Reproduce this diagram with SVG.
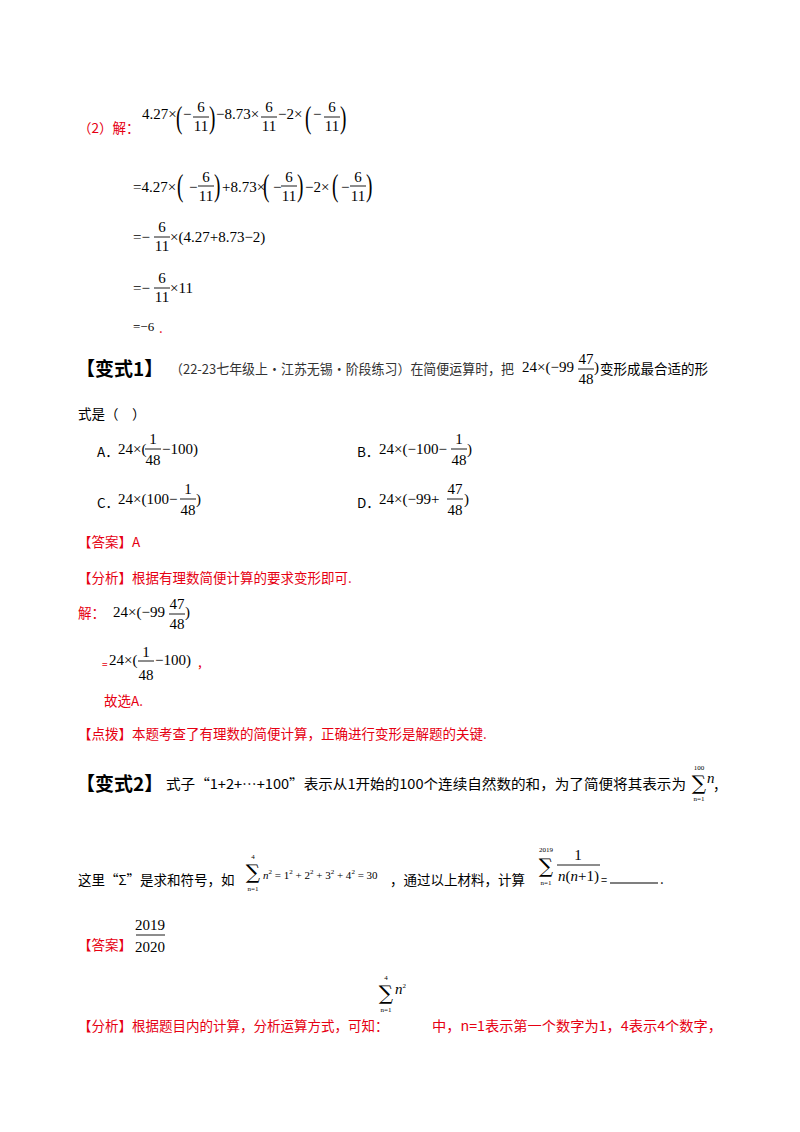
<svg xmlns="http://www.w3.org/2000/svg" width="800" height="1132" viewBox="0 0 800 1132">
<style>
.m{font-family:"Liberation Serif",serif;font-size:15px;fill:#000}
.f{font-family:"Liberation Serif",serif;font-size:15px;fill:#000;text-anchor:middle}
.s{font-family:"Liberation Serif",serif;font-size:7px;fill:#000;text-anchor:middle}
.p{font-family:"Liberation Serif",serif;font-size:32px;fill:#000}
.sum{font-family:"DejaVu Serif",serif;font-size:20px;fill:#000;text-anchor:middle}
.cn{font-family:"Noto Sans CJK SC",sans-serif;font-size:13.5px;fill:#000}
.g{font-family:"Noto Sans CJK SC",sans-serif;font-size:13.5px;fill:#333}
.r{font-family:"Noto Sans CJK SC",sans-serif;font-size:13.5px;fill:#e60012}
.t{font-family:"Noto Sans CJK SC",sans-serif;font-size:19px;font-weight:bold;fill:#000}
.bar{stroke:#000;stroke-width:0.9}
</style>
<rect width="800" height="1132" fill="#fff"/>

<!-- (2) solution -->
<text class="r" x="78" y="133">（2）解：</text>
<text class="m" x="142" y="119">4.27×</text>
<text class="p" x="176" y="128" transform="translate(176 0) scale(0.6 1) translate(-176 0)">(</text>
<text class="m" x="183" y="119">−</text>
<text class="f" x="201" y="112">6</text><line class="bar" x1="193" y1="117" x2="209" y2="117"/><text class="f" x="201" y="131">11</text>
<text class="p" x="209" y="128" transform="translate(209 0) scale(0.6 1) translate(-209 0)">)</text>
<text class="m" x="216" y="119">−8.73×</text>
<text class="f" x="269" y="112">6</text><line class="bar" x1="261" y1="117" x2="277" y2="117"/><text class="f" x="269" y="131">11</text>
<text class="m" x="278" y="119">−2×</text>
<text class="p" x="305" y="128" transform="translate(305 0) scale(0.6 1) translate(-305 0)">(</text>
<text class="m" x="313" y="119">−</text>
<text class="f" x="332" y="112">6</text><line class="bar" x1="324" y1="117" x2="340" y2="117"/><text class="f" x="332" y="131">11</text>
<text class="p" x="340" y="128" transform="translate(340 0) scale(0.6 1) translate(-340 0)">)</text>

<text class="m" x="133" y="192">=4.27×</text>
<text class="p" x="177" y="196" transform="translate(177 0) scale(0.6 1) translate(-177 0)">(</text>
<text class="m" x="189" y="192">−</text>
<text class="f" x="206" y="182">6</text><line class="bar" x1="198" y1="186" x2="214" y2="186"/><text class="f" x="206" y="201">11</text>
<text class="p" x="214" y="196" transform="translate(214 0) scale(0.6 1) translate(-214 0)">)</text>
<text class="m" x="222" y="192">+8.73×</text>
<text class="p" x="263" y="196" transform="translate(263 0) scale(0.6 1) translate(-263 0)">(</text>
<text class="m" x="273" y="192">−</text>
<text class="f" x="289" y="182">6</text><line class="bar" x1="281" y1="186" x2="297" y2="186"/><text class="f" x="289" y="201">11</text>
<text class="p" x="297" y="196" transform="translate(297 0) scale(0.6 1) translate(-297 0)">)</text>
<text class="m" x="305" y="192">−2×</text>
<text class="p" x="332" y="196" transform="translate(332 0) scale(0.6 1) translate(-332 0)">(</text>
<text class="m" x="341" y="192">−</text>
<text class="f" x="358" y="182">6</text><line class="bar" x1="350" y1="186" x2="366" y2="186"/><text class="f" x="358" y="201">11</text>
<text class="p" x="366" y="196" transform="translate(366 0) scale(0.6 1) translate(-366 0)">)</text>

<text class="m" x="133" y="242">=−</text>
<text class="f" x="162" y="232">6</text><line class="bar" x1="154" y1="237" x2="170" y2="237"/><text class="f" x="162" y="251">11</text>
<text class="m" x="170" y="242">×(4.27+8.73−2)</text>

<text class="m" x="133" y="293">=−</text>
<text class="f" x="162" y="283">6</text><line class="bar" x1="154" y1="288" x2="170" y2="288"/><text class="f" x="162" y="302">11</text>
<text class="m" x="170" y="293">×11</text>

<text class="m" x="133" y="331" style="font-size:13px">=−6</text>
<text class="r" x="159" y="333">.</text>

<!-- 变式1 -->
<text class="t" x="76" y="376">【变式1】</text>
<text class="g" x="170" y="374" textLength="344" lengthAdjust="spacingAndGlyphs">（22-23七年级上·江苏无锡·阶段练习）在简便运算时，把</text>
<text class="m" x="522" y="372">24×(−99</text>
<text class="f" x="586" y="364">47</text><line class="bar" x1="578" y1="369" x2="594" y2="369"/><text class="f" x="586" y="384">48</text>
<text class="m" x="594" y="372">)</text>
<text class="cn" x="600" y="374">变形成最合适的形</text>
<text class="cn" x="78" y="419">式是（　）</text>

<text class="cn" x="97" y="457">A．</text>
<text class="m" x="118" y="454">24×(</text>
<text class="f" x="153" y="444">1</text><line class="bar" x1="145" y1="449" x2="161" y2="449"/><text class="f" x="153" y="465">48</text>
<text class="m" x="162" y="454">−100)</text>

<text class="cn" x="357" y="457">B．</text>
<text class="m" x="379" y="454">24×(−100−</text>
<text class="f" x="459" y="444">1</text><line class="bar" x1="451" y1="449" x2="467" y2="449"/><text class="f" x="459" y="465">48</text>
<text class="m" x="467" y="454">)</text>

<text class="cn" x="97" y="508">C．</text>
<text class="m" x="118" y="504">24×(100−</text>
<text class="f" x="188" y="494">1</text><line class="bar" x1="180" y1="499" x2="196" y2="499"/><text class="f" x="188" y="515">48</text>
<text class="m" x="196" y="504">)</text>

<text class="cn" x="357" y="508">D．</text>
<text class="m" x="379" y="504">24×(−99+</text>
<text class="f" x="455" y="494">47</text><line class="bar" x1="447" y1="499" x2="463" y2="499"/><text class="f" x="455" y="515">48</text>
<text class="m" x="464" y="504">)</text>

<text class="r" x="78" y="547">【答案】A</text>
<text class="r" x="78" y="583">【分析】根据有理数简便计算的要求变形即可.</text>
<text class="r" x="78" y="618">解：</text>
<text class="m" x="113" y="617">24×(−99</text>
<text class="f" x="177" y="609">47</text><line class="bar" x1="169" y1="614" x2="185" y2="614"/><text class="f" x="177" y="629">48</text>
<text class="m" x="185" y="617">)</text>
<text class="r" x="102" y="668" style="font-size:10px">=</text>
<text class="m" x="109" y="665">24×(</text>
<text class="f" x="146" y="657">1</text><line class="bar" x1="138" y1="661" x2="154" y2="661"/><text class="f" x="146" y="680">48</text>
<text class="m" x="155" y="665">−100)</text>
<text class="r" x="198" y="667">,</text>
<text class="r" x="104" y="706">故选A.</text>
<text class="r" x="78" y="739">【点拨】本题考查了有理数的简便计算，正确进行变形是解题的关键.</text>

<!-- 变式2 -->
<text class="t" x="76" y="791">【变式2】</text>
<text class="cn" x="166" y="789" textLength="520" lengthAdjust="spacingAndGlyphs">式子“1+2+⋯+100”表示从1开始的100个连续自然数的和，为了简便将其表示为</text>
<text class="s" x="699" y="770">100</text>
<text class="sum" x="699" y="790">∑</text>
<text class="s" x="699" y="801">n=1</text>
<text class="m" x="707" y="783" style="font-style:italic">n</text>
<text class="cn" x="713" y="790">，</text>

<text class="cn" x="78" y="885">这里“Σ”是求和符号，如</text>
<text class="s" x="253" y="859">4</text>
<text class="sum" x="253" y="879">∑</text>
<text class="s" x="253" y="891">n=1</text>
<text class="m" x="263" y="879" style="font-size:11px"><tspan font-style="italic">n</tspan><tspan dy="-5" font-size="7">2</tspan><tspan dy="5"> = 1</tspan><tspan dy="-5" font-size="7">2</tspan><tspan dy="5"> + 2</tspan><tspan dy="-5" font-size="7">2</tspan><tspan dy="5"> + 3</tspan><tspan dy="-5" font-size="7">2</tspan><tspan dy="5"> + 4</tspan><tspan dy="-5" font-size="7">2</tspan><tspan dy="5"> = 30</tspan></text>
<text class="cn" x="390" y="885">，通过以上材料，计算</text>
<text class="s" x="546" y="852">2019</text>
<text class="sum" x="546" y="873">∑</text>
<text class="s" x="546" y="885">n=1</text>
<text class="f" x="578" y="860">1</text><line class="bar" x1="557" y1="865" x2="600" y2="865"/>
<text class="m" x="558" y="881"><tspan font-style="italic">n</tspan>(<tspan font-style="italic">n</tspan>+1)</text>
<text class="cn" x="601" y="884" style="font-size:11px">=</text>
<line class="bar" x1="610" y1="883" x2="658" y2="883" style="stroke-width:1.2"/>
<text class="cn" x="660" y="884">.</text>

<text class="r" x="78" y="950">【答案】</text>
<text class="f" x="150" y="930">2019</text><line class="bar" x1="136" y1="935" x2="165" y2="935"/><text class="f" x="150" y="952">2020</text>

<text class="r" x="78" y="1031">【分析】根据题目内的计算，分析运算方式，可知：</text>
<text class="s" x="386" y="980">4</text>
<text class="sum" x="386" y="1000">∑</text>
<text class="s" x="386" y="1012">n=1</text>
<text class="m" x="395" y="994" style="font-style:italic">n<tspan dy="-6" font-size="7" font-style="normal">2</tspan></text>
<text class="r" x="432" y="1031" textLength="290" lengthAdjust="spacingAndGlyphs">中，n=1表示第一个数字为1，4表示4个数字，</text>
</svg>
